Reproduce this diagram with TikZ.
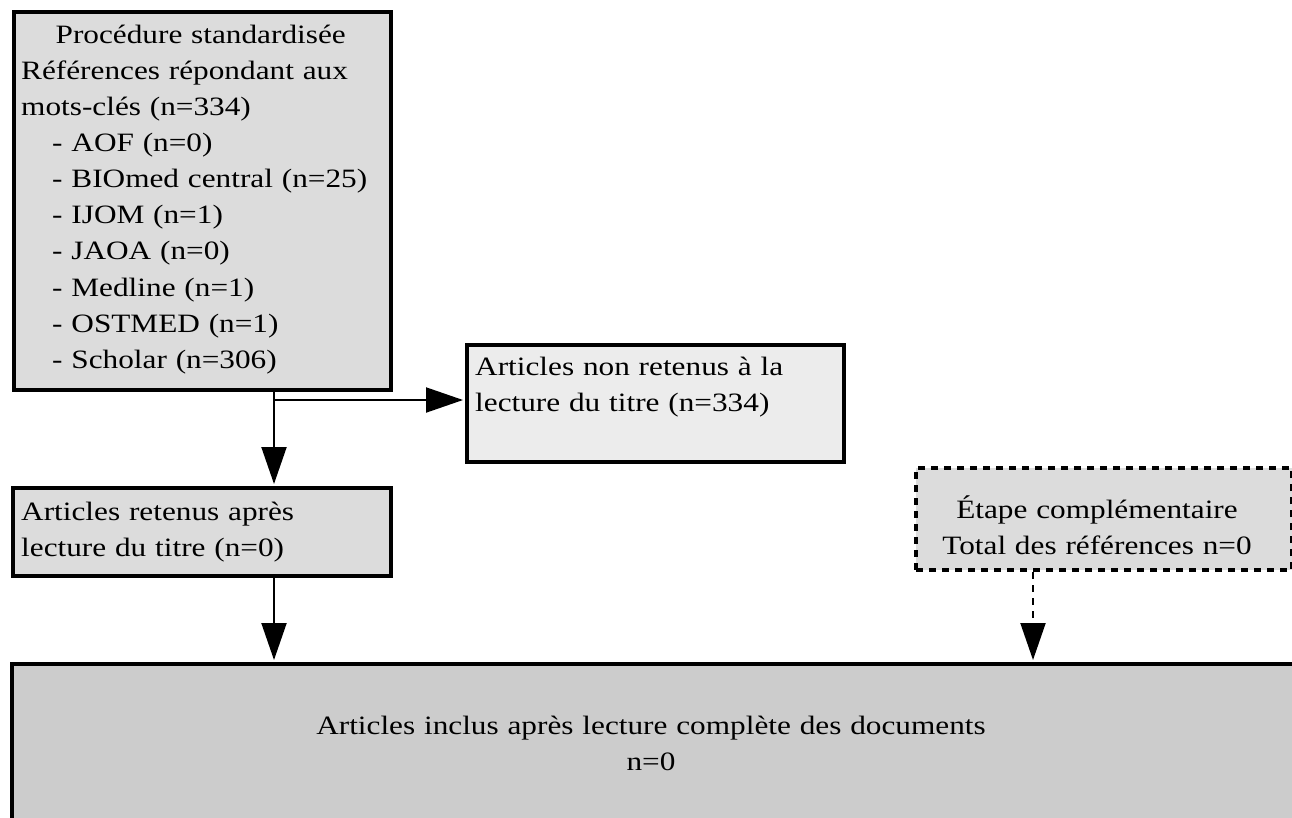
\documentclass[tikz,border=0pt]{standalone}
\usepackage{fontspec}
\setmainfont{Liberation Serif}[FakeStretch=1.18]
\usetikzlibrary{arrows.meta}
\definecolor{gA}{HTML}{DCDCDC}
\definecolor{gB}{HTML}{ECECEC}
\definecolor{gC}{HTML}{CCCCCC}
\begin{document}
\begin{tikzpicture}[x=1pt,y=-1pt,
  box/.style={draw=black, line width=4pt, inner sep=0pt, anchor=north west},
  dashbox/.style={box, dash pattern=on 7pt off 6pt},
  txt/.style={font=\fontsize{26.5}{36.1}\selectfont, inner sep=0pt, text width=450pt, align=left, anchor=base west},
  ctxt/.style={font=\fontsize{26.5}{36.1}\selectfont, inner sep=0pt, text width=1000pt, align=center, anchor=base},
  conn/.style={line width=2pt, shorten >=2pt, -{Triangle[length=37pt,width=25pt]}},
  dconn/.style={conn, dash pattern=on 7pt off 6pt}
]
\clip (0,0) rectangle (1292,817);
% boxes
\node[box, fill=gA, minimum width=377pt, minimum height=378pt] (b1) at (12,10) {};
\node[box, fill=gB, minimum width=377pt, minimum height=117pt] (b2) at (465,343) {};
\node[box, fill=gA, minimum width=378pt, minimum height=88pt] (b3) at (11,486) {};
\node[dashbox, fill=gA, minimum width=376pt, minimum height=102pt] (b4) at (914,466) {};
\node[box, fill=gC, minimum width=1282pt, minimum height=180pt] (b5) at (10,662) {};
% texts
\node[txt] (t1) at (21,43.3) {\makebox[359pt]{Procédure standardisée}\\
Références répondant aux\\
mots-clés (n=334)\\
\hspace*{31pt}- AOF (n=0)\\
\hspace*{31pt}- BIOmed central (n=25)\\
\hspace*{31pt}- IJOM (n=1)\\
\hspace*{31pt}- JAOA (n=0)\\
\hspace*{31pt}- Medline (n=1)\\
\hspace*{31pt}- OSTMED (n=1)\\
\hspace*{31pt}- Scholar (n=306)};
\node[txt] (t2) at (475,375) {Articles non retenus à la\\lecture du titre (n=334)};
\node[txt] (t3) at (21,520) {Articles retenus après\\lecture du titre (n=0)};
\node[ctxt] (t4) at (1097,518.3) {Étape complémentaire\\Total des références n=0};
\node[ctxt] (t5) at (651,734) {Articles inclus après lecture complète des documents\\n=0};
% connectors
\coordinate (jx) at (274,400);
\coordinate (kx) at (1033,600);
\draw[conn] (jx |- b1.south) -- (jx |- b3.north);
\draw[conn] (jx) -- (b2.west |- jx);
\draw[conn] (jx |- b3.south) -- (jx |- b5.north);
\draw[dconn] (kx |- b4.south) -- (kx |- b5.north);
\end{tikzpicture}
\end{document}
